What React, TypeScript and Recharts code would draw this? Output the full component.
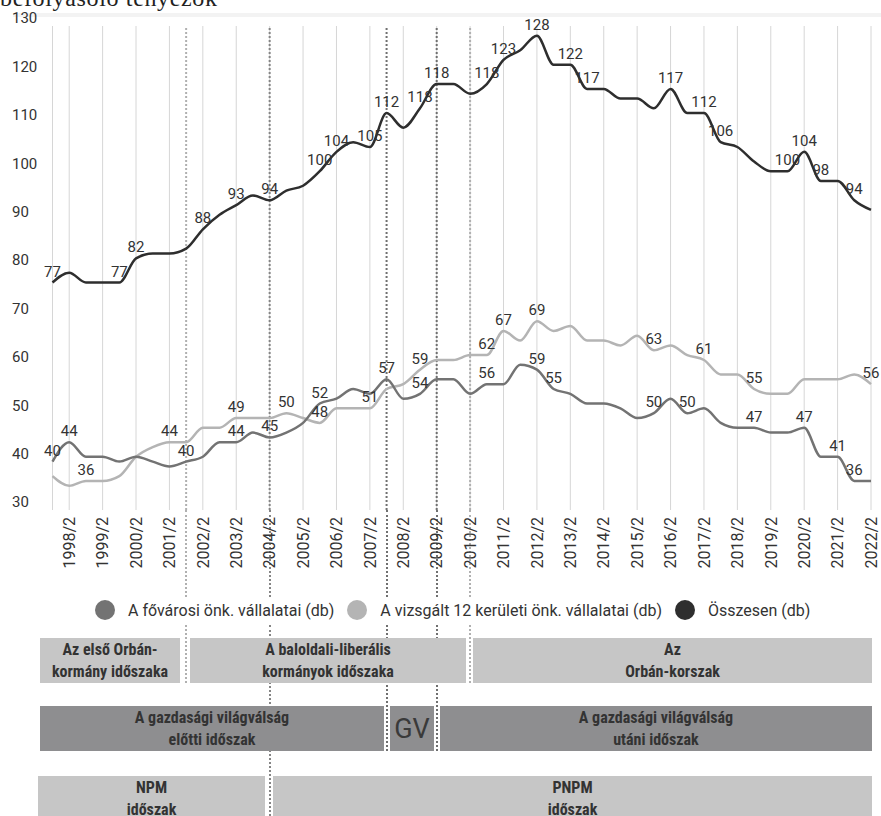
import React from 'react';
import { LineChart, Line, XAxis, YAxis, CartesianGrid, ReferenceLine, LabelList } from 'recharts';

// half-year periods, 1998/1 .. 2022/2
const years = [1998, 1999, 2000, 2001, 2002, 2003, 2004, 2005, 2006, 2007, 2008, 2009, 2010,
  2011, 2012, 2013, 2014, 2015, 2016, 2017, 2018, 2019, 2020, 2021, 2022];
const categories = years.flatMap((y) => [`${y}/1`, `${y}/2`]);
const xTicks = categories.filter((c) => c.endsWith('/2'));
const yTicks = [30, 40, 50, 60, 70, 80, 90, 100, 110, 120, 130];

const fovarosi = [40, 44, 41, 41, 40, 41, 40, 39, 40, 41, 44, 44, 46, 45, 46, 48, 52, 53, 55, 54,
  57, 53, 54, 57, 57, 54, 56, 56, 60, 59, 55, 54, 52, 52, 51, 49, 50, 53, 50, 51,
  48, 47, 47, 46, 46, 47, 41, 41, 36, 36];
const keruleti = [37, 35, 36, 36, 37, 41, 43, 44, 44, 47, 47, 49, 49, 49, 50, 49, 48, 51, 51, 51,
  55, 56, 59, 61, 61, 62, 62, 67, 65, 69, 67, 68, 65, 65, 64, 66, 63, 64, 62, 61,
  58, 58, 55, 54, 54, 57, 57, 57, 58, 56];
const osszesen = [77, 79, 77, 77, 77, 82, 83, 83, 84, 88, 91, 93, 95, 94, 96, 97, 100, 104, 106, 105,
  112, 109, 113, 118, 118, 116, 118, 123, 125, 128, 122, 122, 117, 117, 115, 115, 113, 117, 112, 112,
  106, 105, 102, 100, 100, 104, 98, 98, 94, 92];

// value labels printed on the chart: [period, text]
const fovarosiLabels: [string, string][] = [
  ['1998/1', '40'], ['1998/2', '44'], ['2002/1', '40'], ['2003/2', '44'], ['2004/2', '45'],
  ['2006/1', '52'], ['2008/1', '57'], ['2009/1', '54'], ['2011/1', '56'], ['2012/2', '59'],
  ['2013/1', '55'], ['2016/1', '50'], ['2017/1', '50'], ['2019/1', '47'], ['2020/2', '47'],
  ['2021/2', '41'], ['2022/1', '36'],
];
const keruletiLabels: [string, string][] = [
  ['1999/1', '36'], ['2001/2', '44'], ['2003/2', '49'], ['2005/1', '50'], ['2006/1', '48'],
  ['2007/2', '51'], ['2009/1', '59'], ['2011/1', '62'], ['2011/2', '67'], ['2012/2', '69'],
  ['2016/1', '63'], ['2017/2', '61'], ['2019/1', '55'], ['2022/2', '56'],
];
const osszesenLabels: [string, string][] = [
  ['1998/1', '77'], ['2000/1', '77'], ['2000/2', '82'], ['2002/2', '88'], ['2003/2', '93'],
  ['2004/2', '94'], ['2006/1', '100'], ['2006/2', '104'], ['2007/2', '105'], ['2008/1', '112'],
  ['2009/1', '118'], ['2009/2', '118'], ['2011/1', '118'], ['2011/2', '123'], ['2012/2', '128'],
  ['2013/2', '122'], ['2014/1', '117'], ['2016/2', '117'], ['2017/2', '112'], ['2018/1', '106'],
  ['2020/1', '100'], ['2020/2', '104'], ['2021/1', '98'], ['2022/1', '94'],
];

const seriesNames = ['A fővárosi önk. vállalatai (db)', 'A vizsgált 12 kerületi önk. vállalatai (db)', 'Összesen (db)'];
const seriesColors = ['#737373', '#b4b4b4', '#2e2e2e'];

// period dividers (dotted)
const dividers = [
  { cat: '2002/1', color: '#b0b0b0', end: 683 },
  { cat: '2004/2', color: '#858585', end: 816 },
  { cat: '2008/1', color: '#707070', end: 751 },
  { cat: '2009/2', color: '#707070', end: 751 },
  { cat: '2010/2', color: '#b0b0b0', end: 683 },
];

const bandRows = [
  {
    top: 638, fill: '#c6c6c6', items: [
      { from: 40, to: 180, lines: ['Az első Orbán-', 'kormány időszaka'] },
      { from: 190, to: 466, lines: ['A baloldali-liberális', 'kormányok időszaka'] },
      { from: 473, to: 872, lines: ['Az', 'Orbán-korszak'] },
    ],
  },
  {
    top: 706, fill: '#8e8e90', items: [
      { from: 40, to: 384, lines: ['A gazdasági világválság', 'előtti időszak'] },
      { from: 390, to: 434, lines: ['GV'], big: true },
      { from: 440, to: 872, lines: ['A gazdasági világválság', 'utáni időszak'] },
    ],
  },
  {
    top: 776, fill: '#c6c6c6', items: [
      { from: 38, to: 265, lines: ['NPM', 'időszak'] },
      { from: 273, to: 872, lines: ['PNPM', 'időszak'] },
    ],
  },
];

const toMap = (list: [string, string][]) => new Map(list);
const fovMap = toMap(fovarosiLabels);
const kerMap = toMap(keruletiLabels);
const osszMap = toMap(osszesenLabels);

const data = categories.map((cat, i) => ({
  cat,
  fov: fovarosi[i],
  ker: keruleti[i],
  ossz: osszesen[i],
  fovL: fovMap.get(cat) ?? null,
  kerL: kerMap.get(cat) ?? null,
  osszL: osszMap.get(cat) ?? null,
}));

const FONT = 'Roboto, sans-serif';
const PLOT_LEFT = 52.5;
const PLOT_RIGHT = 871;
const CHART_H = 580;
const X_AXIS_H = 70;

const ValueLabel = (props: any) => {
  const { x, y, value } = props;
  if (value == null || value === '') return null;
  return (
    <text x={x} y={y - 6} textAnchor="middle" fontSize={15} fill="#333" fontFamily={FONT}>
      {value}
    </text>
  );
};

const XTick = (props: any) => {
  const { x, payload } = props;
  const y0 = 517;
  return (
    <text x={x} y={y0} dy="0.36em" textAnchor="end" fontSize={16} fill="#333" fontFamily={FONT}
      transform={`rotate(-90, ${x}, ${y0})`}>
      {payload.value}
    </text>
  );
};

const YTick = (props: any) => {
  const { y, payload } = props;
  return (
    <text x={12} y={y - 8} dy="0.36em" textAnchor="start" fontSize={15} fill="#333" fontFamily={FONT}>
      {payload.value}
    </text>
  );
};

const App: React.FC = () => {
  const step = (PLOT_RIGHT - PLOT_LEFT) / (categories.length - 1);
  const plotBottom = CHART_H - X_AXIS_H;

  return (
    <div style={{ position: 'absolute', left: 0, top: 0, width: 881, height: 816, overflow: 'hidden', background: '#fff', fontFamily: FONT }}>
      {/* clipped heading from the page above */}
      <svg width={881} height={20} style={{ position: 'absolute', left: 0, top: 0 }}>
        <text x={0} y={6} fontSize={24} fontFamily="'Liberation Serif', serif" fill="#222" textLength={217} lengthAdjust="spacing">
          befolyásoló tényezők
        </text>
      </svg>
      <div style={{ position: 'absolute', left: 13, top: 13, width: 868, height: 4, background: '#f3f3f3' }} />

      {/* divider continuation below the plot */}
      {dividers.map((d) => {
        const x = PLOT_LEFT + categories.indexOf(d.cat) * step - 1;
        return (
          <React.Fragment key={d.cat}>
            <div style={{ position: 'absolute', left: x, top: plotBottom, height: 597 - plotBottom, borderLeft: `2px dotted ${d.color}` }} />
            <div style={{ position: 'absolute', left: x, top: 625, height: d.end - 625, borderLeft: `2px dotted ${d.color}` }} />
          </React.Fragment>
        );
      })}

      <div style={{ position: 'absolute', left: 0, top: 0 }}>
        <LineChart width={881} height={CHART_H} data={data} margin={{ top: 26, right: 881 - PLOT_RIGHT, bottom: 0, left: 0 }}>
          <CartesianGrid vertical horizontal={false} stroke="#d6d6d6" strokeWidth={1} />
          <XAxis dataKey="cat" ticks={xTicks} interval={0} height={X_AXIS_H} tick={<XTick />} tickLine={false} axisLine={false} />
          <YAxis width={PLOT_LEFT} domain={[30, 130]} ticks={yTicks} tick={<YTick />} tickLine={false} axisLine={false} />
          {dividers.map((d) => (
            <ReferenceLine key={d.cat} x={d.cat} stroke={d.color} strokeWidth={2} strokeDasharray="2 2" />
          ))}
          <Line type="monotone" dataKey="ker" stroke={seriesColors[1]} strokeWidth={2.5} dot={false} activeDot={false} isAnimationActive={false}>
            <LabelList dataKey="kerL" content={<ValueLabel />} />
          </Line>
          <Line type="monotone" dataKey="fov" stroke={seriesColors[0]} strokeWidth={2.5} dot={false} activeDot={false} isAnimationActive={false}>
            <LabelList dataKey="fovL" content={<ValueLabel />} />
          </Line>
          <Line type="monotone" dataKey="ossz" stroke={seriesColors[2]} strokeWidth={2.5} dot={false} activeDot={false} isAnimationActive={false}>
            <LabelList dataKey="osszL" content={<ValueLabel />} />
          </Line>
        </LineChart>
      </div>

      {/* legend */}
      <div style={{ position: 'absolute', left: 95, top: 600, height: 20, display: 'flex', alignItems: 'center', fontSize: 16, color: '#333', whiteSpace: 'nowrap' }}>
        {seriesNames.map((name, i) => (
          <div key={name} style={{ display: 'flex', alignItems: 'center', marginRight: 13 }}>
            <span style={{ width: 20, height: 20, borderRadius: 10, background: seriesColors[i], marginRight: 13, display: 'inline-block' }} />
            <span>{name}</span>
          </div>
        ))}
      </div>

      {/* period bands */}
      {bandRows.map((row, r) =>
        row.items.map((it: any) => (
          <div key={`${r}-${it.from}`} style={{
            position: 'absolute', left: it.from, top: row.top, width: it.to - it.from, height: 45,
            background: row.fill, display: 'flex', flexDirection: 'column', alignItems: 'center', justifyContent: 'center',
            color: it.big ? '#3a3a3a' : '#333',
            fontFamily: it.big ? FONT : "'Liberation Sans Narrow', 'Roboto Condensed', Roboto, sans-serif",
            fontWeight: it.big ? 400 : 700, fontSize: it.big ? 27 : 16, lineHeight: '22px', textAlign: 'center',
          }}>
            {it.lines.map((l: string) => <div key={l}>{l}</div>)}
          </div>
        ))
      )}
    </div>
  );
};

export default App;
